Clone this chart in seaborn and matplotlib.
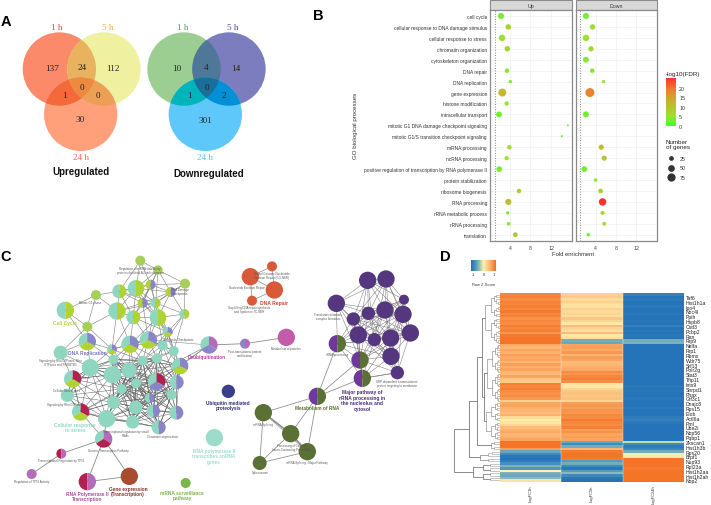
import numpy as np
import pandas as pd
import matplotlib
matplotlib.use("Agg")
import matplotlib.pyplot as plt
from matplotlib.patches import Circle, Wedge, Rectangle, Polygon
from matplotlib.colors import LinearSegmentedColormap, Normalize
from matplotlib.cm import ScalarMappable
import seaborn as sns

W, H = 711, 506
SANS = "Liberation Sans"
SERIF = "Liberation Serif"
plt.rcParams["font.family"] = SANS

# ---------- A: Venn ----------
venn_sets = ["1 h", "5 h", "24 h"]
up_counts = [137, 24, 112, 1, 0, 0, 30]
down_counts = [10, 4, 14, 1, 0, 2, 301]

# ---------- B: GO dot plot ----------
go_terms = ["cell cycle", "cellular response to DNA damage stimulus", "cellular response to stress",
            "chromatin organization", "cytoskeleton organization", "DNA repair", "DNA replication",
            "gene expression", "histone modification", "intracellular transport",
            "mitotic G1 DNA damage checkpoint signaling", "mitotic G1/S transition checkpoint signaling",
            "mRNA processing", "ncRNA processing", "positive regulation of transcription by RNA polymerase II",
            "protein stabilization", "ribosome biogenesis", "RNA processing", "rRNA metabolic process",
            "rRNA processing", "translation"]
n = np.nan
up_fold = [2.24, 3.67, 2.44, 3.48, n, 3.41, 4.07, 2.5, 3.35, 1.85, 15.3, 14.1, 3.87, 3.35, 1.9, n, 5.76, 3.67, 3.54, 3.74, 5.04]
up_fdr = [3, 7, 5, 7, n, 4, 3, 12, 4, 2.5, 3, 3, 6, 5, 3, n, 8, 10, 4, 4, 9]
up_genes = [42, 34, 46, 34, n, 22, 12, 70, 20, 38, 4, 5, 22, 20, 36, n, 22, 42, 12, 14, 25]
down_fold = [2.11, 3.41, 2.11, 3.09, 2.11, 3.35, 5.56, 2.89, n, 2.11, n, n, 5.11, 5.69, 1.79, 4.0, 4.98, 5.37, 5.37, 5.69, 2.57]
down_fdr = [3, 6, 5, 6, 4, 4, 5, 18, n, 3, n, n, 11, 10, 3, 4, 8, 25, 7, 6, 3]
down_genes = [40, 32, 46, 32, 38, 22, 12, 90, n, 40, n, n, 30, 30, 36, 14, 24, 62, 18, 16, 14]

# ---------- C: network (x, y, radius in crop units, colour key) ----------
left_nodes = [
 (421,65,15,"g"),(474,93,14,"g"),(408,148,25,"tG"),(358,157,21,"tG"),(452,137,15,"Gb"),(512,159,15,"Gb"),
 (555,134,15,"g"),(288,168,15,"g"),(196,214,26,"tG"),(351,216,26,"tG"),(428,192,15,"Gb"),(467,192,15,"tG"),
 (400,235,21,"tG"),(474,236,25,"tG"),(553,225,15,"tG"),(262,263,15,"g"),(503,279,15,"tbG"),(262,308,26,"tbG"),
 (390,316,26,"tbG"),(445,303,26,"tbG"),(336,331,15,"tbG"),(488,319,15,"t"),(521,336,15,"t"),(182,341,21,"t"),
 (340,362,15,"t"),(540,381,25,"tbG"),(428,365,15,"t"),(471,358,15,"t"),(271,386,26,"t"),(387,394,23,"t"),
 (337,407,26,"t"),(218,420,26,"trG"),(470,428,26,"trb"),(530,430,21,"tb"),(408,433,15,"t"),(365,450,15,"t"),
 (202,469,20,"t"),(341,490,20,"t"),(407,505,20,"t"),(515,467,15,"t"),(449,477,15,"tb"),(460,516,20,"tb"),
 (529,521,21,"tb"),(242,519,26,"trG"),(320,539,26,"t"),(398,549,20,"t"),(476,565,21,"tb")]
tf_nodes = [(311,600,26,"tmr"),(184,644,15,"rm"),(95,705,15,"m"),(262,728,26,"rm"),(388,712,26,"w"),(557,732,15,"v")]
red_nodes = [(181,113,26,"o"),(246,82,15,"o"),(253,153,26,"o"),(186,185,15,"o")]
deub_nodes = [(57,318,26,"tmb"),(165,314,15,"bm"),(289,295,26,"M")]
solo_nodes = [(115,457,20,"n"),(73,596,26,"T")]
purple_nodes = [(533,124,26,"p"),(588,120,26,"p"),(642,182,15,"p"),(439,193,26,"p"),(585,213,26,"p"),(639,226,26,"p"),
 (535,223,20,"p"),(490,240,20,"p"),(505,288,26,"p"),(553,302,20,"p"),(602,297,26,"p"),(661,282,26,"p"),
 (603,352,26,"p"),(622,401,20,"p"),(442,314,26,"Pl"),(510,363,26,"Pl"),(517,418,26,"Pl")]
olive_nodes = [(382,472,26,"Pl"),(220,521,26,"l"),(302,584,26,"l"),(352,638,26,"l"),(209,672,21,"l")]
node_colors = {"g":"#a6cf5a","G":"#afd235","t":"#8fd6c0","b":"#8a85c9","r":"#b3214f","m":"#b36cb8","w":"#a84b2f",
               "v":"#78b84a","o":"#d95a39","M":"#c25ca9","n":"#3a3f8c","T":"#9cdccc","p":"#54377f","P":"#6f389b","l":"#5a7035"}

# label text, x, y, colour, size, bold (figure pixels)
net_labels = [
 ("Cell Cycle",65,323,"#b5d334",3.5,True),("DNA Replication",87,354,"#7b75c8",3.5,True),
 ("Cellular response\nto stress",75,428,"#8fd6c0",3.5,True),("RNA Polymerase II\nTranscription",87,497,"#a84f9e",3.4,True),
 ("Gene expression\n(Transcription)",128,492,"#8c2f2a",3.4,True),("mRNA surveillance\npathway",182,496,"#7ab648",3.4,True),
 ("RNA polymerase II\ntranscribes snRNA\ngenes",214,457,"#9cdccc",3.4,True),("Ubiquitin mediated\nproteolysis",228,406,"#2f2f78",3.4,True),
 ("Deubiquitination",207,358,"#b040a0",3.4,True),("DNA Repair",274,303,"#c8452c",3.6,True),
 ("Metabolism of RNA",317,409,"#55702f",3.4,True),("Major pathway of\nrRNA processing in\nthe nucleolus and\ncytosol",362,401,"#4c2a7a",3.5,True)]
tiny_labels = [
 ("Regulation of mRNA stability by\nproteins that bind AU-rich elements",140,271),("Signaling by Rho GTPases, Miro\nGTPases and RHOBTB3",60,363),
 ("Signaling by Rho GTPases",65,405),("Cellular Senescence",67,391),("Chromatin organization",163,437),("Regulation of TP53 Activity",32,482),
 ("Transcriptional Regulation by TP53",61,461),("Generic Transcription Pathway",108,451),("Transcriptional regulation by small\nRNAs",126,434),
 ("M Phase",84,378),("Cell Cycle Checkpoints",178,340),("DNA Damage\nCheckpoints",180,292),("Mitotic G1 phase",90,303),
 ("Global Genome Nucleotide\nExcision Repair (GG-NER)",272,276),("Nucleotide Excision Repair",247,288),
 ("Gap-filling DNA repair synthesis\nand ligation in TC-NER",249,310),("Post-translational protein\nmodification",245,354),
 ("Metabolism of proteins",286,349),("Translation initiation\ncomplex formation",328,317),("Spliceosome",260,473),("mRNA Splicing - Major Pathway",307,463),
 ("mRNA Splicing",263,425),("Processing of Capped\nIntron-Containing Pre-mRNA",291,448),("rRNA processing",337,355),
 ("SRP-dependent cotranslational\nprotein targeting to membrane",397,384)]

# ---------- D: heatmap ----------
gene_labels = ["Taf6","Hist1h1a","Ipo4","Noc4l","Ppih","Hspb8","Cstf3","Pcbp2","Ran","Rrp9","Nelfa","Rrp1","Rbmx","Wdr75","Srf13",
 "Polr2g","Stat3","Tfip11","Ints9","Snrpd1","Phax","Gtf3c1","Dnajc8","Rps15","Elob","Actl6a","Pml","Ube2i","Nop56","Pqbp1",
 "Zkscan1","Hist1h3b","Rps20","Brpf1","Nup93","Rpl23a","Hist1h2aa","Hist1h2ah","Nop2"]
heat_columns = ["LogFC1h","LogFC5h","LogFC24h"]
col_1h = [1.0,1.05,.95,1.05,1.0,1.05,1.0,1.1,1.0,1.05,.9,1.0,.95,1.05,1.0,1.05,.85,1.1,1.15,1.15,1.15,
 .7,.6,.75,.65,.8,.7,.75,.6,.8,.65,.75,.6,.55,.75,.45,.4,
 1.05,1.0,1.05,.95,.9,.95,.85,.35,
 .7,.75,.65,.6,.55,.65,.25,.05,.15,.3,.55,.65,.7,.6,.65,.75,
 1.15,1.15,1.15,.8,
 -.6,-.9,-1.1,-1.15,-1.05,-.85,-.5,-.75,.0,-.5,-.6,-.45,.15]
col_5h = [.35,.4,.25,.35,.2,.15,.35,.25,.3,.2,.45,.3,.1,.55,.3,.2,.55,.1,.2,-.55,-.6,
 .75,.8,.7,.85,.6,.8,.75,.55,.6,.65,.7,.95,.85,1.0,1.05,.95,
 .15,.1,.3,.45,.5,.45,.5,.3,
 .8,.85,.8,.9,.85,1.0,.95,1.1,1.0,.95,1.05,.8,.9,.75,.8,.75,
 -.6,-.9,-.55,.6,
 1.1,1.15,1.15,1.1,-.7,-.55,-.9,-1.1,-.7,-.45,-.9,-1.1,-1.15]
col_24h = [-1.0,-1.15,-1.1,-1.15,-1.15,-1.1,-1.15,-1.15,-1.1,-1.15,-1.15,-1.1,-1.15,-1.0,-1.15,-1.1,-1.15,-1.1,-1.15,-.55,-.5,
 -1.15,-1.15,-1.15,-1.15,-1.15,-1.15,-1.15,-1.15,-1.15,-1.15,-1.15,-1.15,-1.15,-1.15,-1.15,-1.15,
 -1.15,-1.1,-1.15,-1.1,-1.15,-1.15,-1.1,-1.15,
 -1.15,-1.15,-1.1,-1.15,-1.15,-1.15,-1.05,-1.0,-1.1,-1.15,-1.15,-1.15,-1.15,-1.15,-1.15,-1.15,
 -.2,-.9,-1.05,-.95,
 -.55,.05,.1,1.15,1.15,1.15,1.15,1.1,1.15,1.15,1.15,1.15,1.15]
# dendrogram: merge position (pixels), first row, last row (exclusive), children
dendro = (454, 0, 78, [
   (469, 0, 70, [
      (477, 0, 65, [
         (482, 0, 61, [
            (485, 0, 21, []),
            (484, 21, 61, [(487, 21, 45, []), (486, 45, 61, [])])]),
         (491, 61, 65, [])]),
      (480, 65, 70, [])]),
   (473, 70, 78, [])])

# ---------- helpers ----------
sns.set_theme(style="white", rc={"font.family": [SANS]})
plt.rcParams["font.family"] = [SANS]
fig = plt.figure(figsize=(W / 100, H / 100), dpi=100, facecolor="white")

def ax_px(x0, y0, x1, y1):
    return fig.add_axes([x0 / W, 1 - y1 / H, (x1 - x0) / W, (y1 - y0) / H])

bg = fig.add_axes([0, 0, 1, 1], zorder=0)
bg.set_xlim(0, W); bg.set_ylim(H, 0); bg.axis("off")

for t, x, y in [("A", 6, 22), ("B", 318, 16), ("C", 6, 257), ("D", 445, 257)]:
    bg.text(x, y, t, fontsize=10.5, fontweight="bold", ha="center", va="center", color="black")

# ---------- A ----------
def lens(circles):
    """Outline of the overlap of several circles, traced round their common centre."""
    cx = np.mean([c[0] for c in circles]); cy = np.mean([c[1] for c in circles])
    th = np.linspace(0, 2 * np.pi, 240, endpoint=False)
    dx, dy = np.cos(th), np.sin(th)
    rad = np.full(th.shape, np.inf)
    for (a, b, r) in circles:
        ox, oy = cx - a, cy - b
        bq = ox * dx + oy * dy
        rad = np.minimum(rad, -bq + np.sqrt(np.maximum(bq ** 2 - (ox ** 2 + oy ** 2 - r ** 2), 0)))
    return np.column_stack([cx + rad * dx, cy + rad * dy])

def venn(cx, colors, counts, offs, label_pos, label_cols, title, title_pos):
    cs = [(a / 3, b / 3, 110 / 3) for a, b in cx]
    for c, col in zip(cs, colors[:3]):
        bg.add_patch(Circle(c[:2], c[2], fc=col, ec="none"))
    for (i, j), col in zip([(0, 1), (0, 2), (1, 2)], colors[3:6]):
        bg.add_patch(Polygon(lens([cs[i], cs[j]]), fc=col, ec="none"))
    bg.add_patch(Polygon(lens(cs), fc=colors[6], ec="none"))
    for v, (px, py) in zip(counts, offs):
        bg.text(px / 3, py / 3, str(v), family=SERIF, fontsize=6.6, ha="center", va="center", color="#222")
    for s, (px, py), c in zip(venn_sets, label_pos, label_cols):
        bg.text(px / 3, py / 3, s, family=SERIF, fontsize=6.6, ha="center", va="center", color=c)
    bg.text(title_pos[0] / 3, title_pos[1] / 3, title, fontsize=7, fontweight="bold", ha="center", va="center", color="#111")

venn([(178,210),(312,210),(242,346)],
     ["#fb8a6b","#eff0a0","#ffa07a","#e9b25f","#f4683a","#ec9f55","#ee8a40"], up_counts,
     [(157,206),(247,203),(340,206),(194,288),(246,263),(295,288),(240,360)],
     [(170,85),(323,85),(242,475)], ["#e8413c","#f5a742","#f0605a"], "Upregulated", (242,517))
venn([(552,210),(687,210),(616,346)],
     ["#9bce90","#7b7dbe","#5fc8fa","#4f7898","#00b4bc","#0090d8","#1a6f9a"], down_counts,
     [(530,206),(617,203),(708,206),(568,288),(620,263),(670,288),(615,364)],
     [(548,85),(698,85),(615,475)], ["#3aa655","#4a4aa0","#4fc3f7"], "Downregulated", (626,523))

# ---------- B ----------
go_cmap = LinearSegmentedColormap.from_list("fdr", [(0, "#40ff30"), (.2, "#9ce030"), (.5, "#c4b430"), (.75, "#ea8030"), (1, "#ff3030")])
fdr_norm = Normalize(0, 25)
size_rng = ((4, 90), (2, 42))
def dotpanel(x0, x1, fold, fdr, genes, title, show_labels):
    ax = ax_px(x0, 10.7, x1, 242)
    df = pd.DataFrame({"fold": fold, "pos": np.arange(len(go_terms)), "fdr": fdr, "genes": genes}).dropna()
    ax.grid(True, color="#ececec", lw=0.4)
    ax.set_axisbelow(True)
    sns.scatterplot(data=df, x="fold", y="pos", hue="fdr", hue_norm=fdr_norm, palette=go_cmap, size="genes",
                    size_norm=size_rng[0], sizes=size_rng[1], legend=False, linewidth=0, ax=ax, zorder=3)
    ax.axvline(1, color="#888", ls=":", lw=0.7, zorder=2)
    ax.set_xlim(0.1, 16.04); ax.set_ylim(20.576, -0.576)
    ax.set_xticks([4, 8, 12]); ax.set_xticklabels(["4", "8", "12"], fontsize=3.8, color="#444")
    ax.set_yticks(range(len(go_terms)))
    if show_labels:
        ax.set_yticklabels(go_terms, fontsize=3.5, color="#333")
    else:
        ax.set_yticklabels([])
    ax.tick_params(axis="y", length=1.2, width=0.4, color="#666", pad=1)
    ax.tick_params(axis="x", length=1.2, width=0.4, color="#666", pad=1.8)
    ax.set_xlabel(""); ax.set_ylabel("")
    for s in ax.spines.values():
        s.set_color("#8a8a8a"); s.set_linewidth(0.9)
    bg.add_patch(Rectangle((x0, 1), x1 - x0, 9.7, fc="#d8d8d8", ec="#8a8a8a", lw=0.8))
    bg.text((x0 + x1) / 2, 6, title, fontsize=3.8, ha="center", va="center", color="#333")
    return ax
dotpanel(490, 571.7, up_fold, up_fdr, up_genes, "Up", True)
dotpanel(575.7, 657, down_fold, down_fdr, down_genes, "Down", False)
bg.text(355, 126, "GO biological processes", rotation=90, fontsize=4.4, ha="center", va="center", color="#333")
bg.text(573, 254, "Fold enrichment", fontsize=4.2, ha="center", va="center", color="#333")

cax = ax_px(666, 79, 675.7, 126.7)
fig.colorbar(ScalarMappable(fdr_norm, go_cmap), cax=cax)
cax.set_yticks([0, 5, 10, 15, 20]); cax.set_yticklabels(["0", "5", "10", "15", "20"], fontsize=3.8, color="#333")
cax.tick_params(length=0, pad=2.5)
for s in cax.spines.values():
    s.set_visible(False)
bg.text(666, 74, "-log10(FDR)", fontsize=4.5, ha="left", va="center", color="#222")
bg.text(666, 145, "Number\nof genes", fontsize=4.5, ha="left", va="center", color="#222", linespacing=1.05)
for gv, yy in zip([25, 50, 75], [159, 168.5, 178]):
    s = size_rng[1][0] + (gv - size_rng[0][0]) / (size_rng[0][1] - size_rng[0][0]) * (size_rng[1][1] - size_rng[1][0])
    bg.scatter([670.7], [yy], s=s, c="#333", linewidths=0)
    bg.text(680, yy, str(gv), fontsize=3.8, ha="left", va="center", color="#333")

# ---------- C ----------
def pts(nodes, ox, oy):
    return [(ox + a / 3, oy + b / 3, r / 3, k) for a, b, r, k in nodes]
L = pts(left_nodes, 0, 240); TF = pts(tf_nodes, 0, 240)
RD = pts(red_nodes, 190, 240); DB = pts(deub_nodes, 190, 240); SL = pts(solo_nodes, 190, 240)
PU = pts(purple_nodes, 190, 240); OL = pts(olive_nodes, 190, 240)

def edge(a, b, lw=0.45, c="#8a8a8a"):
    bg.plot([a[0], b[0]], [a[1], b[1]], color=c, lw=lw, zorder=1, solid_capstyle="round")
def prox(nodes, d, lw=0.45, c="#7d7d7d"):
    for i in range(len(nodes)):
        for j in range(i + 1, len(nodes)):
            if np.hypot(nodes[i][0] - nodes[j][0], nodes[i][1] - nodes[j][1]) < d:
                edge(nodes[i], nodes[j], lw, c)
prox(L, 40, 0.4)
prox(L[24:], 55, 0.35, "#666666")
prox(PU, 62, 0.35, "#777777")
edge(TF[0], TF[3], 0.6); edge(TF[0], TF[4], 0.6); edge(TF[3], TF[4], 0.6); edge(TF[1], TF[2], 0.6)
edge(TF[0], TF[1], 0.6); edge(TF[0], L[44], 0.6); edge(TF[0], L[43], 0.5)
for i, j in [(0,1),(0,2),(1,2),(0,3),(3,2)]:
    edge(RD[i], RD[j], 0.5)
edge(DB[0], DB[1], 0.6); edge(DB[1], DB[2], 0.6); edge(DB[0], L[25], 0.5); edge(DB[0], L[32], 0.5); edge(DB[0], L[19], 0.4); edge(DB[0], L[43], 0.5)
for i in [2, 3, 1]:
    edge(OL[0], OL[i], 0.55)
for j in [14, 15, 16]:
    edge(OL[0], PU[j], 0.55)
edge(PU[16], PU[13], 0.55)
edge(OL[1], OL[2], 1.1); edge(OL[2], OL[3], 1.1); edge(OL[1], OL[3], 0.5); edge(OL[1], OL[4], 0.55)
edge(OL[4], OL[2], 0.55); edge(OL[4], OL[3], 0.55)

def draw_node(x, y, r, k):
    z = 3
    if len(k) == 1:
        bg.add_patch(Circle((x, y), r, fc=node_colors[k], ec="none", zorder=z))
    elif len(k) == 2:
        bg.add_patch(Wedge((x, y), r, 90, 270, fc=node_colors[k[0]], ec="none", zorder=z))
        bg.add_patch(Wedge((x, y), r, -90, 90, fc=node_colors[k[1]], ec="none", zorder=z))
    else:
        # upper left, upper right, bottom (the y axis points down)
        bg.add_patch(Wedge((x, y), r, 150, 270, fc=node_colors[k[0]], ec="none", zorder=z))
        bg.add_patch(Wedge((x, y), r, 270, 390, fc=node_colors[k[1]], ec="none", zorder=z))
        bg.add_patch(Wedge((x, y), r, 30, 150, fc=node_colors[k[2]], ec="none", zorder=z))
for group in (L, TF, RD, DB, SL, PU, OL):
    for nd in group:
        draw_node(*nd)
for txt, x, y in tiny_labels:
    bg.text(x, y, txt, fontsize=2.1, color="#555", ha="center", va="center", zorder=4, linespacing=1.0)
for txt, x, y, c, fs, b in net_labels:
    bg.text(x, y, txt, fontsize=fs, color=c, ha="center", va="center", fontweight="bold" if b else "normal", zorder=5, linespacing=1.2)

# ---------- D ----------
heat_cmap = LinearSegmentedColormap.from_list("z", [(0, "#2070b8"), (.22, "#5a9ec0"), (.36, "#a0c8b0"), (.5, "#fdf2b0"),
                                                   (.72, "#fdbf7c"), (1, "#f36f21")])
hdf = pd.DataFrame({c: v for c, v in zip(heat_columns, (col_1h, col_5h, col_24h))})
hax = ax_px(500, 294.3, 684, 482.7)
sns.heatmap(hdf, ax=hax, cmap=heat_cmap, vmin=-1.2, vmax=1.2, cbar=False, xticklabels=False, yticklabels=False,
            linewidths=0, rasterized=True)
hax.set_yticks(np.arange(1, 78, 2) + 0.5)
hax.set_yticklabels(gene_labels, fontsize=3.7, rotation=0, color="#222")
hax.yaxis.tick_right()
hax.tick_params(axis="y", length=0, pad=1.2)
hax.set_xticks([0.5, 1.5, 2.5]); hax.set_xticklabels(heat_columns, rotation=90, fontsize=2.9, color="#333")
hax.tick_params(axis="x", length=0, pad=2)
hax.axvline(1, color="white", lw=0.25); hax.axvline(2, color="white", lw=0.25)

def row_y(r):
    return 294.3 + (r + 0.5) * (482.7 - 294.3) / 78
def sub_tree(lo, hi, x, col):
    if hi - lo == 1:
        return row_y(lo)
    mid = (lo + hi + (lo % 2)) // 2
    next_x = x + (500 - x) * 0.38
    ya = sub_tree(lo, mid, next_x, col)
    yb = sub_tree(mid, hi, next_x, col)
    xa = 500 if mid - lo == 1 else next_x
    xb = 500 if hi - mid == 1 else next_x
    lw = 0.55 if hi - lo <= 3 else 0.45
    c = "#b5b5b5" if hi - lo <= 3 else col
    bg.plot([xa, x, x, xb], [ya, ya, yb, yb], color=c, lw=lw, zorder=2)
    return (ya + yb) / 2
def tree(node, col="#8a8a8a"):
    x, lo, hi, kids = node
    if not kids:
        return sub_tree(lo, hi, x, col)
    ys = []
    for k in kids:
        c2 = "#555555" if k[1] >= 70 else ("#777777" if k[1] >= 65 else col)
        ys.append((k[0], tree(k, c2)))
    bg.plot([ys[0][0], x, x, ys[1][0]], [ys[0][1], ys[0][1], ys[1][1], ys[1][1]], color="#777777", lw=0.6, zorder=2)
    return (ys[0][1] + ys[1][1]) / 2
tree(dendro)

kax = ax_px(471.3, 261, 495.7, 271.7)
kax.imshow(np.linspace(-1.2, 1.2, 120)[None, :], aspect="auto", cmap=heat_cmap, extent=[-1.24, 1.2, 0, 1])
kax.set_yticks([]); kax.set_xticks([-1, 0, 1]); kax.set_xticklabels(["-1", "0", "1"], fontsize=2.8, color="#333")
kax.tick_params(axis="x", length=1, width=0.3, color="#333", pad=1, direction="in")
for s in kax.spines.values():
    s.set_visible(False)
bg.text(483.5, 285, "Row Z-Score", fontsize=2.9, ha="center", va="center", color="#333")

fig.savefig("out.png", dpi=100, facecolor="white")
